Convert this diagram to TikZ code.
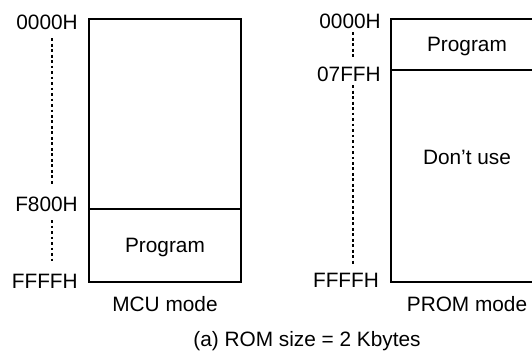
\documentclass[tikz,border=0pt]{standalone}
\usepackage{fontspec}
\setmainfont{Liberation Sans}
\usetikzlibrary{positioning, calc}

\begin{document}
\begin{tikzpicture}[
  every node/.style={font=\fontsize{14.8}{17.8}\selectfont},
  region/.style={draw, line width=1.2pt, inner sep=0pt, outer sep=0pt,
                 minimum width=3.8cm, text depth=0pt},
  addr/.style={anchor=east, inner sep=0pt},
  caption/.style={anchor=base, inner sep=0pt},
  guide/.style={line width=1.3pt, dash pattern=on 2pt off 1.9pt}
]
  \useasboundingbox (0,0) rectangle (13.3,8.975);

  %% MCU mode map
  \node[region, minimum height=4.735cm, anchor=north] (mcufree) at (4.125,8.4925) {};
  \node[region, minimum height=1.825cm, below=0pt of mcufree] (mcuprog) {Program};

  %% PROM mode map
  \node[region, minimum height=1.275cm, anchor=north] (promprog) at (11.675,8.4925) {Program};
  \node[region, minimum height=5.285cm, below=0pt of promprog] (promfree) {};
  \node[caption] (dontuse) at (11.675,4.85) {Don't use};

  %% Addresses
  \node[addr] (mcuA)  at (1.95,8.42)    {0000H};
  \node[addr] (mcuB)  at (1.95,3.8625)  {F800H};
  \node[addr] (mcuC)  at (1.95,1.95)    {FFFFH};
  \node[addr] (promA) at (9.525,8.45)   {0000H};
  \node[addr] (promB) at (9.525,7.125)  {07FFH};
  \node[addr] (promC) at (9.48,1.9625)  {FFFFH};

  %% Dotted guides
  \coordinate (mcuX)  at (1.3,0);
  \coordinate (promX) at (8.8175,0);
  \draw[guide] ($(mcuX |- mcuA.south)+(0,-0.21)$)   -- ($(mcuX |- mcuB.north)+(0,0.3)$);
  \draw[guide] ($(mcuX |- mcuB.south)+(0,-0.2)$)    -- ($(mcuX |- mcuC.north)+(0,0.27)$);
  \draw[guide] ($(promX |- promA.south)+(0,-0.09)$) -- ($(promX |- promB.north)+(0,0.21)$);
  \draw[guide] ($(promX |- promB.south)+(0,-0.09)$) -- ($(promX |- promC.north)+(0,0.21)$);

  %% Captions
  \node[caption] (mcucap)  at (4.125,1.1825)  {MCU mode};
  \node[caption] (promcap) at (11.675,1.1825) {PROM mode};
  \node[caption] (title)   at (7.675,0.3075)  {(a) ROM size = 2 Kbytes};
\end{tikzpicture}
\end{document}
